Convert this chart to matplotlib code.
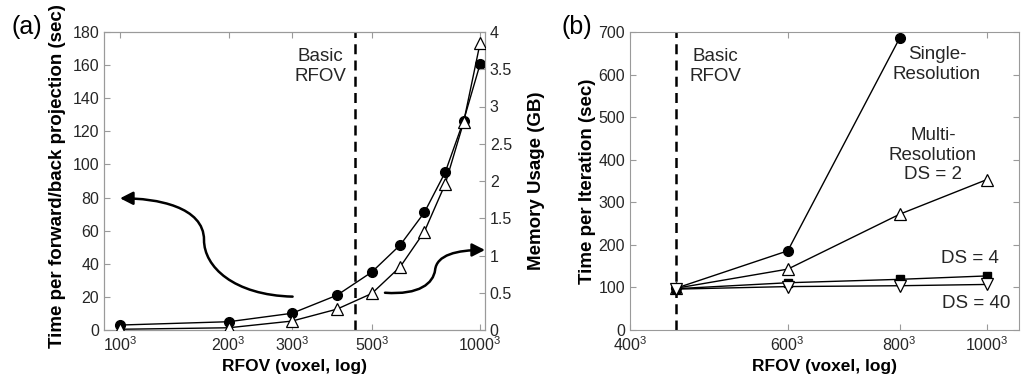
import numpy as np
import matplotlib
matplotlib.use('Agg')
import matplotlib.pyplot as plt
from matplotlib.patches import FancyArrowPatch
from matplotlib.path import Path

plt.rcParams['font.family'] = ['Liberation Sans', 'DejaVu Sans']
plt.rcParams['mathtext.fontset'] = 'custom'
plt.rcParams['mathtext.rm'] = 'Liberation Sans'
plt.rcParams['mathtext.default'] = 'regular'
plt.rcParams['font.size'] = 12

# (a) forward/back projection time and memory vs RFOV
fov_a = [100, 200, 300, 400, 500, 600, 700, 800, 900, 1000]
time_a = [3.0, 5.0, 10.1, 21, 35, 51.4, 71, 95.3, 126.5, 160.6]
mem_a = [0.01, 0.03, 0.12, 0.28, 0.49, 0.85, 1.32, 1.96, 2.79, 3.85]
xticks_a = [100, 200, 300, 500, 1000]

# (b) time per iteration vs RFOV
fov_b = [450, 600, 800, 1000]
single_b = [98, 186, 686]
ds2_b = [98, 143, 272, 353]
ds4_b = [97, 111, 119, 127]
ds40_b = [96, 102, 104, 107]
xticks_b = [400, 600, 800, 1000]

basic_rfov = 450

TXT = '#262626'
SPINE = '#9a9a9a'
TICK_FS = 11.5
LAB_FS_X = 12.5
LAB_FS_Y = 13.5
ANN_FS = 13.5


def style_axis(ax):
    for s in ax.spines.values():
        s.set_color(SPINE)
        s.set_linewidth(0.8)
    ax.tick_params(direction='in', length=4, width=0.8, color=SPINE,
                   labelcolor=TXT, labelsize=TICK_FS, which='major')
    ax.tick_params(which='minor', length=0)


def cube_labels(vals):
    return ['%d$^3$' % v for v in vals]


fig = plt.figure(figsize=(10.21, 3.87), dpi=100)

# ---- panel (a) ----
ax = fig.add_axes([104/1021, 57/387, 381/1021, 298/387])
ax.set_xscale('log')
ax.plot(fov_a, time_a, '-', color='k', lw=1.0, marker='o', ms=7,
        mfc='k', mec='k', zorder=3)
ax.axvline(basic_rfov, color='k', ls=(0, (4, 2.5)), lw=1.8, zorder=2)
ax.set_ylim(0, 180)
ax.set_yticks(np.arange(0, 181, 20))

ax2 = ax.twinx()
ax2.plot(fov_a, mem_a, '-', color='k', lw=1.0, marker='^', ms=8,
         mfc='white', mec='k', mew=0.9, zorder=3)
ax2.set_ylim(0, 4)
ax2.set_yticks(np.arange(0, 4.01, 0.5))
ax2.set_yticklabels(['0', '0.5', '1', '1.5', '2', '2.5', '3', '3.5', '4'])

ax.set_xlim(90, 1032)
ax.set_xticks(xticks_a)
ax.set_xticklabels(cube_labels(xticks_a))
ax.xaxis.set_minor_locator(matplotlib.ticker.NullLocator())
style_axis(ax)
style_axis(ax2)
ax.tick_params(top=True)
ax.set_xlabel('RFOV (voxel, log)', fontweight='bold', color='k',
              fontsize=LAB_FS_X, va='center')
ax.xaxis.set_label_coords(0.5, -0.124)
ax.set_ylabel('Time per forward/back projection (sec)', fontweight='bold',
              color='k', fontsize=LAB_FS_Y, va='center')
ax.yaxis.set_label_coords(-0.121, 0.515)
ax2.set_ylabel('Memory Usage (GB)', fontweight='bold', color='k',
               fontsize=LAB_FS_Y, va='center')
ax2.yaxis.set_label_coords(1.136, 0.5)

ax.text(0.567, 0.885, 'Basic\nRFOV', transform=ax.transAxes, ha='center',
        va='center', color=TXT, fontsize=ANN_FS)

# curved arrows pointing to each axis
p1 = Path([(0.495, 0.112), (0.34, 0.117), (0.2625, 0.2125), (0.2625, 0.302),
           (0.2625, 0.414), (0.138, 0.442), (0.042, 0.442)],
          [Path.MOVETO, Path.CURVE4, Path.CURVE4, Path.CURVE4,
           Path.CURVE4, Path.CURVE4, Path.CURVE4])
p2 = Path([(0.7375, 0.125), (0.829, 0.117), (0.864, 0.157), (0.869, 0.201),
           (0.873, 0.252), (0.926, 0.2685), (1.0, 0.2685)],
          [Path.MOVETO, Path.CURVE4, Path.CURVE4, Path.CURVE4,
           Path.CURVE4, Path.CURVE4, Path.CURVE4])
for p in (p1, p2):
    arr = FancyArrowPatch(path=p, arrowstyle='-|>,head_length=0.55,head_width=0.28',
                          mutation_scale=14, color='k', lw=1.8,
                          transform=ax.transAxes, clip_on=False)
    ax2.add_patch(arr)

fig.text(27/1021, 1 - 27/387, '(a)', fontsize=18, ha='center', va='center', color='k')

# ---- panel (b) ----
bx = fig.add_axes([630/1021, 57/387, 389/1021, 298/387])
bx.set_xscale('log')
bx.axvline(basic_rfov, color='k', ls=(0, (4, 2.5)), lw=1.8, zorder=2)
bx.plot(fov_b[:len(single_b)], single_b, '-', color='k', lw=1.0, marker='o',
        ms=7, mfc='k', mec='k', zorder=3)
bx.plot(fov_b, ds2_b, '-', color='k', lw=1.0, marker='^', ms=8,
        mfc='white', mec='k', mew=0.9, zorder=3)
bx.plot(fov_b, ds4_b, '-', color='k', lw=1.0, marker='s', ms=6,
        mfc='k', mec='k', zorder=3)
bx.plot(fov_b, ds40_b, '-', color='k', lw=1.0, marker='v', ms=8,
        mfc='white', mec='k', mew=0.9, zorder=3)
bx.set_xlim(400, 1087)
bx.set_ylim(0, 700)
bx.set_yticks(np.arange(0, 701, 100))
bx.set_xticks(xticks_b)
bx.set_xticklabels(cube_labels(xticks_b))
bx.xaxis.set_minor_locator(matplotlib.ticker.NullLocator())
style_axis(bx)
bx.tick_params(top=True, right=True)
bx.set_xlabel('RFOV (voxel, log)', fontweight='bold', color='k',
              fontsize=LAB_FS_X, va='center')
bx.xaxis.set_label_coords(0.5, -0.124)
bx.set_ylabel('Time per Iteration (sec)', fontweight='bold', color='k',
              fontsize=LAB_FS_Y, va='center')
bx.yaxis.set_label_coords(-0.11, 0.5)

bx.text(0.2185, 0.885, 'Basic\nRFOV', transform=bx.transAxes, ha='center',
        va='center', color=TXT, fontsize=ANN_FS)
bx.text(0.789, 0.89, 'Single-\nResolution', transform=bx.transAxes, ha='center',
        va='center', color=TXT, fontsize=ANN_FS)
bx.text(0.779, 0.587, 'Multi-\nResolution\nDS = 2', transform=bx.transAxes,
        ha='center', va='center', color=TXT, fontsize=ANN_FS)
bx.text(0.874, 0.2405, 'DS = 4', transform=bx.transAxes, ha='center',
        va='center', color=TXT, fontsize=ANN_FS)
bx.text(0.891, 0.0895, 'DS = 40', transform=bx.transAxes, ha='center',
        va='center', color=TXT, fontsize=ANN_FS)

fig.text(577/1021, 1 - 27/387, '(b)', fontsize=18, ha='center', va='center', color='k')

fig.savefig('out.png', dpi=100)
